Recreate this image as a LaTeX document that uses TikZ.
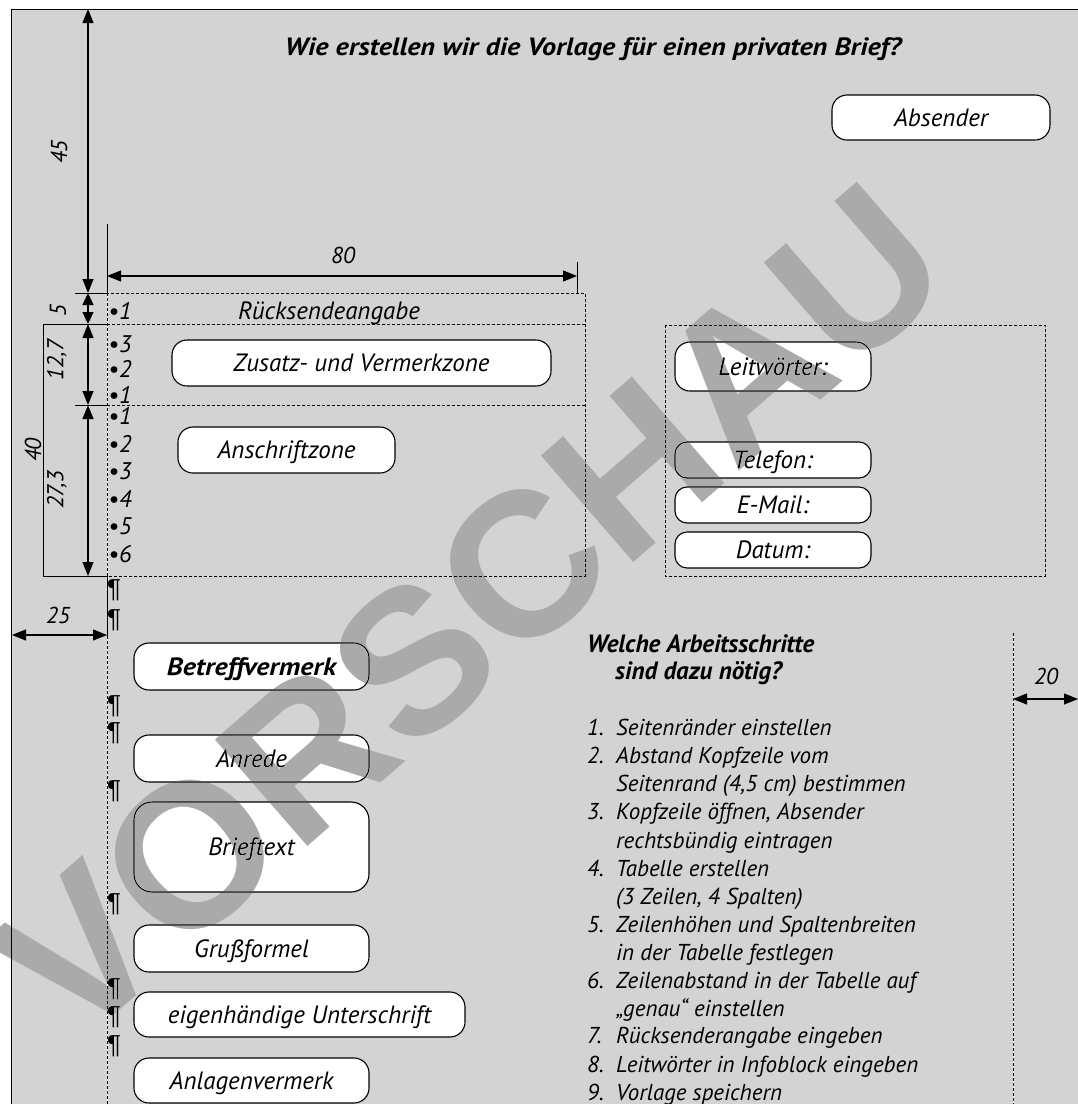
\documentclass[tikz,border=0pt]{standalone}
\usepackage{fontspec}
\setmainfont{PT Sans}
\newfontfamily\wmfont{Liberation Sans}
\usetikzlibrary{arrows.meta}
\definecolor{bg}{RGB}{211,211,211}
\definecolor{wm}{RGB}{170,170,170}
\begin{document}
\begin{tikzpicture}[x=1pt,y=-1pt,
  every node/.style={font=\fontsize{23}{26}\selectfont\itshape, inner sep=0pt},
  dimarrow/.style={line width=1.1pt, {Triangle[length=14pt,width=11pt]}-{Triangle[length=14pt,width=11pt]}},
  shortdim/.style={line width=1.1pt, {Triangle[length=12pt,width=11pt]}-{Triangle[length=12pt,width=11pt]}},
  extline/.style={line width=1pt},
  dashline/.style={line width=0.9pt, dash pattern=on 3pt off 2pt},
  whiteline/.style={line width=0.9pt, white},
  rbox/.style={draw, line width=1.1pt, fill=white, rounded corners=15pt, text height=17.5pt, text depth=0pt, align=center, font=\fontsize{25}{28}\selectfont\itshape},
  boldlbl/.style={font=\fontsize{25}{28}\selectfont\bfseries\itshape},
  dimlbl/.style={rotate=90},
  pilcrow/.style={font=\wmfont\fontsize{26}{28}\selectfont\upshape},
  bul/.style={anchor=base west, font=\fontsize{24}{26}\selectfont\itshape},
  lst/.style={anchor=base west}
]
\useasboundingbox (0,0) rectangle (1078,1104);
% background and frame
\fill[white] (0,0) rectangle (1078,1104);
\fill[bg] (11,9) rectangle (1078,1104);
\draw[line width=1pt] (11,1104) -- (11,9) -- (1078,9);

% title
\node[boldlbl, anchor=base] (title) at (593,55) {\scalebox{1.13}[1]{Wie erstellen wir die Vorlage für einen privaten Brief?}};

% Absender
\node[rbox, minimum width=218pt, minimum height=45pt] (absender) at (941,117.5) {Absender};

% dashed zones, left block
\draw[whiteline] (107,293) -- (107,576);
\draw[dashline] (107,293) rectangle (585,576);
\draw[dashline] (107,324) -- (585,324);
\draw[dashline] (107,405) -- (585,405);
% right info block
\draw[dashline] (665,325) rectangle (1045,576);

% extension lines
\draw[extline] (75,293) -- (107,293);
\draw[extline] (107,224) -- (107,293);
\draw[extline] (577,262) -- (577,293);
\draw[extline] (75,405) -- (107,405);
\draw[extline] (107,324) -- (43,324) -- (43,576) -- (107,576);
\draw[extline] (107,576) -- (107,636);

% margins
\draw[whiteline] (107,636) -- (107,1104);
\draw[dashline] (107,636) -- (107,1104);
\draw[whiteline] (1013,633) -- (1013,1104);
\draw[dashline] (1013,633) -- (1013,1104);

% dimension arrows
\draw[dimarrow] (88,9) -- (88,293);
\draw[shortdim] (88,293) -- (88,324);
\draw[dimarrow] (88,324) -- (88,405);
\draw[dimarrow] (88,405) -- (88,576);
\draw[dimarrow] (107,276) -- (577,276);
\draw[dimarrow] (12,635) -- (107,635);
\draw[dimarrow] (1013,699) -- (1078,699);

% dimension labels
\node[dimlbl] (d45) at (59,152) {45};
\node[dimlbl] (d5) at (58,311) {5};
\node[dimlbl] (d127) at (57,360) {12,7};
\node[dimlbl] (d40) at (33,450) {40};
\node[dimlbl] (d273) at (57,490) {27,3};
\node (d80) at (343,255) {80};
\node (d25) at (58,615) {25};
\node (d20) at (1046,676) {20};

% Ruecksendeangabe
\node[anchor=base, font=\fontsize{25}{28}\selectfont\itshape] (rueck) at (329,319) {Rücksendeangabe};

% bullets
\node[bul] (b0) at (108,319) {•1};
\node[bul] (z3) at (108,352) {•3};
\node[bul] (z2) at (108,377) {•2};
\node[bul] (z1) at (108,403) {•1};
\node[bul] (a1) at (108,424) {•1};
\node[bul] (a2) at (108,452) {•2};
\node[bul] (a3) at (108,479) {•3};
\node[bul] (a4) at (108,507) {•4};
\node[bul] (a5) at (108,534) {•5};
\node[bul] (a6) at (108,562) {•6};

% boxes left block
\node[rbox, minimum width=379pt, minimum height=46pt] (zusatz) at (361.5,363) {Zusatz- und Vermerkzone};
\node[rbox, minimum width=217pt, minimum height=46pt] (anschrift) at (286.5,450) {Anschriftzone};

% info block boxes
\node[rbox, minimum width=196pt, minimum height=49pt] (leit) at (773,366.5) {Leitwörter:};
\node[rbox, minimum width=196pt, minimum height=36pt, rounded corners=12pt] (tel) at (773,460) {Telefon:};
\node[rbox, minimum width=196pt, minimum height=36pt, rounded corners=12pt] (mail) at (773,505) {E-Mail:};
\node[rbox, minimum width=196pt, minimum height=36pt, rounded corners=12pt] (datum) at (773,550) {Datum:};

% letter body boxes
\node[rbox, boldlbl, minimum width=235pt, minimum height=47pt] (betreff) at (251.5,666.5) {\scalebox{1.12}[1]{Betreffvermerk}};
\node[rbox, minimum width=235pt, minimum height=47pt] (anrede) at (251.5,758.5) {Anrede};
\node[rbox, minimum width=235pt, minimum height=90pt, rounded corners=18pt] (brief) at (251.5,847) {Brieftext};
\node[rbox, minimum width=235pt, minimum height=47pt] (gruss) at (251.5,948.5) {Grußformel};
\node[rbox, minimum width=331pt, minimum height=45pt] (unter) at (299.5,1014.5) {eigenhändige Unterschrift};
\node[rbox, minimum width=235pt, minimum height=45pt] (anlage) at (251.5,1080.5) {Anlagenvermerk};

% pilcrows
\node[pilcrow] (p1) at (114,590) {¶};
\node[pilcrow] (p2) at (114,620) {¶};
\node[pilcrow] (p3) at (114,706) {¶};
\node[pilcrow] (p4) at (114,733) {¶};
\node[pilcrow] (p5) at (114,791) {¶};
\node[pilcrow] (p6) at (114,904) {¶};
\node[pilcrow] (p7) at (114,989) {¶};
\node[pilcrow] (p8) at (114,1017) {¶};
\node[pilcrow] (p9) at (114,1046) {¶};

% steps
\node[boldlbl, anchor=base west] (w1) at (587,652) {Welche Arbeitsschritte};
\node[boldlbl, anchor=base west] (w2) at (615,679) {sind dazu nötig?};

\node[lst] (n1) at (587,735) {1.};
\node[lst] (t1) at (616,735) {Seitenränder einstellen};
\node[lst] (n2) at (587,763) {2.};
\node[lst] (t2) at (616,763) {Abstand Kopfzeile vom};
\node[lst] (t2b) at (616,791) {Seitenrand (4,5 cm) bestimmen};
\node[lst] (n3) at (587,819) {3.};
\node[lst] (t3) at (616,819) {Kopfzeile öffnen, Absender};
\node[lst] (t3b) at (616,848) {rechtsbündig eintragen};
\node[lst] (n4) at (587,876) {4.};
\node[lst] (t4) at (616,876) {Tabelle erstellen};
\node[lst] (t4b) at (616,904) {(3 Zeilen, 4 Spalten)};
\node[lst] (n5) at (587,932) {5.};
\node[lst] (t5) at (616,932) {Zeilenhöhen und Spaltenbreiten};
\node[lst] (t5b) at (616,960) {in der Tabelle festlegen};
\node[lst] (n6) at (587,988) {6.};
\node[lst] (t6) at (616,988) {Zeilenabstand in der Tabelle auf};
\node[lst] (t6b) at (616,1016) {„genau“ einstellen};
\node[lst] (n7) at (587,1043) {7.};
\node[lst] (t7) at (616,1043) {Rücksenderangabe eingeben};
\node[lst] (n8) at (587,1072) {8.};
\node[lst] (t8) at (616,1072) {Leitwörter in Infoblock eingeben};
\node[lst] (n9) at (587,1100) {9.};
\node[lst] (t9) at (616,1100) {Vorlage speichern};

% watermark
\begin{scope}[blend mode=darken]
\node[font=\wmfont\bfseries\fontsize{205}{205}\selectfont, text=wm, rotate=41] (wmark) at (470,612) {VORSCHAU};
\end{scope}
\end{tikzpicture}
\end{document}
